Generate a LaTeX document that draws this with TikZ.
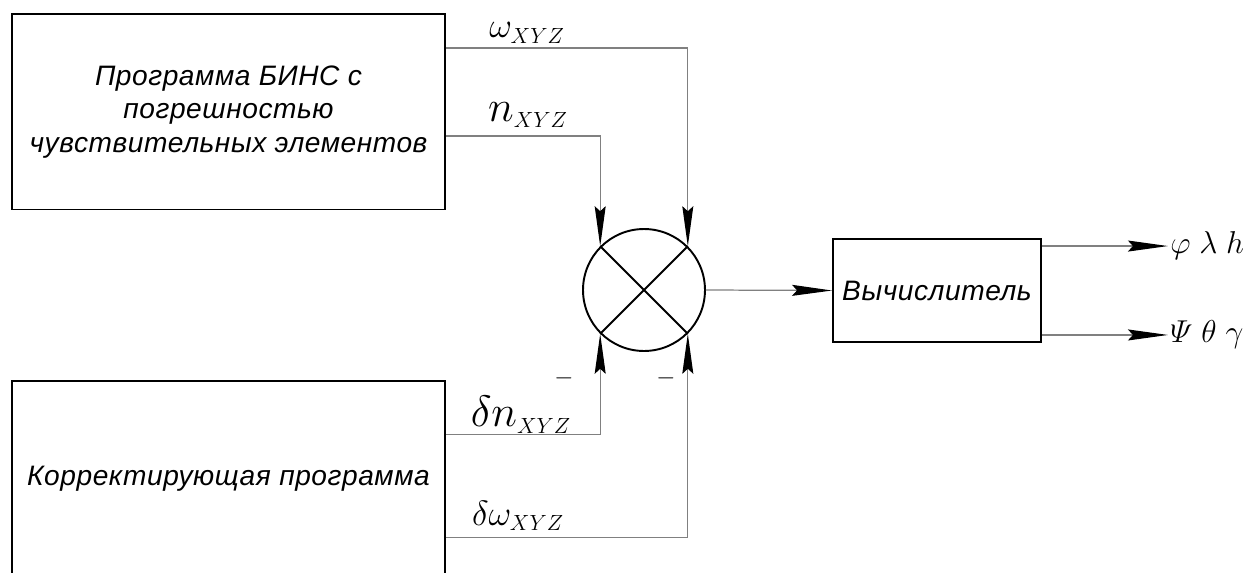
\RequirePackage{fix-cm}
\documentclass[tikz,border=0pt]{standalone}
\usepackage{fontspec}
\usepackage{amsmath}
\usetikzlibrary{arrows.meta, positioning}
\newfontfamily\gostfont{Liberation Sans}[LetterSpace=2]
\newcommand{\subxyz}{\mbox{\fontsize{12.5}{13}\selectfont$XYZ$}}

\begin{document}
\begin{tikzpicture}[x=0.02cm, y=-0.02cm]
  \tikzset{
    block/.style={
      rectangle,
      draw,
      line width=1.1pt, % thick frame
      align=center,
      minimum width=8.66cm,
      minimum height=3.91cm,
      font=\gostfont\itshape\fontsize{16}{19}\selectfont,
    },
    calcblock/.style={block, minimum width=4.16cm, minimum height=2.06cm},
    sumnode/.style={circle, draw, line width=1.1pt, minimum size=2.44cm, inner sep=0pt},
    signal/.style={draw=gray, line width=0.7pt,
      -{Stealth[length=0.8cm, width=0.22cm, inset=0.1cm, color=black]}},
    biglbl/.style={font=\fontsize{25}{28}\selectfont},
    smalllbl/.style={font=\fontsize{20}{22}\selectfont},
    outlbl/.style={font=\fontsize{18}{20}\selectfont, inner sep=1pt},
  }

  \useasboundingbox (0,0) rectangle (1252,572);
  \clip (0,0) rectangle (1252,572);

  % blocks
  \node[block] (bins) at (228.5,111.75) {Программа БИНС с\\погрешностью\\чувствительных элементов};
  \node[block] (corr) at (228.5,478.5) {Корректирующая программа};
  \node[sumnode] (sum) at (644,290) {};
  \draw[line width=1.1pt] (sum.45) -- (sum.225) (sum.135) -- (sum.315);
  \node[calcblock] (calc) at (937,290.5) {Вычислитель};

  % inputs of the summator
  \draw[signal] (bins.north east) ++(0,35) -| (sum.45);
  \draw[signal] (bins.north east) ++(0,123) -| (sum.135);
  \draw[signal] (corr.north east) ++(0,55) -| (sum.225);
  \draw[signal] (corr.north east) ++(0,158) -| (sum.315);

  \node[smalllbl] (wlbl) at (527,33) {$\omega_{\subxyz}$};
  \node[biglbl] (nlbl) at (528,115) {$n_{\subxyz}$};
  \node[biglbl] (dnlbl) at (521,415) {$\delta n_{\subxyz}$};
  \node[smalllbl] (dwlbl) at (518,516) {$\delta\omega_{\subxyz}$};
  \node[font=\fontsize{14}{14}\selectfont] (minusn) at (564,378) {$-$};
  \node[font=\fontsize{14}{14}\selectfont] (minusw) at (666,378) {$-$};

  % output
  \draw[signal] (sum.east) -- (calc.west);
  \draw[signal] (calc.north east) ++(0,8) -- ++(126,0)
    node[outlbl, right] (coords) {$\varphi\;\lambda\;h$};
  \draw[signal] (calc.south east) ++(0,-8) -- ++(126,0)
    node[outlbl, right] (angles) {$\varPsi\;\theta\;\gamma$};
\end{tikzpicture}
\end{document}
